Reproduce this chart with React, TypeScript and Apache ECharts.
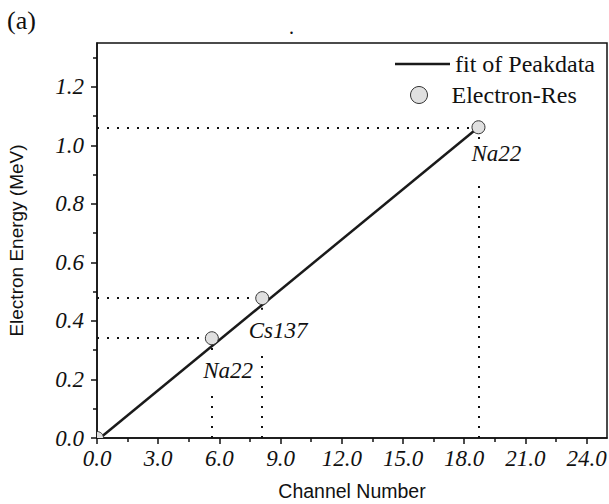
import React, { useEffect, useRef } from "react";
import * as echarts from "echarts";

const xMajor = [0, 3, 6, 9, 12, 15, 18, 21, 24];
const xMinor = [1.5, 4.5, 7.5, 10.5, 13.5, 16.5, 19.5, 22.5];
const yMajor = [0, 0.2, 0.4, 0.6, 0.8, 1.0, 1.2];
const yMinor = [0.1, 0.3, 0.5, 0.7, 0.9, 1.1, 1.3];

const pointX = [0, 5.63, 8.1, 18.7];
const pointY = [0, 0.341, 0.478, 1.062];

const fitX = [0.15, 18.7];
const fitY = [0.0, 1.062];

// dotted reference guides
const refX = [5.63, 8.1, 18.7];
const refY = [0.341, 0.478, 1.062];
const refDropTop = [0.171, 0.3, 0.889];

const annotNames = ["Na22", "Cs137", "Na22"];
const annotX = [6.43, 8.88, 19.58];
const annotY = [0.232, 0.369, 0.974];

const SERIF = "Liberation Serif";
const SANS = "Liberation Sans";

export default function App() {
  const ref = useRef<HTMLDivElement>(null);
  useEffect(() => {
    if (!ref.current) return;
    const chart = echarts.init(ref.current, null, { renderer: "svg" });
    const markLines: any[] = [];
    refX.forEach((x, i) => {
      markLines.push([{ coord: [0, refY[i]] }, { coord: [x, refY[i]] }]);
      markLines.push([{ coord: [x, 0] }, { coord: [x, refDropTop[i]] }]);
      markLines.push([{ coord: [x, refY[i] - 0.04] }, { coord: [x, refY[i]] }]);
    });
    const tickLabel = {
      fontFamily: SERIF,
      fontStyle: "italic",
      fontSize: 23,
      color: "#111",
    };
    chart.setOption({
      animation: false,
      backgroundColor: "#fff",
      grid: {
        left: 97,
        right: 2,
        top: 43,
        bottom: 66,
        show: true,
        borderColor: "#111",
        borderWidth: 1.5,
        containLabel: false,
        outerBoundsMode: "none",
      },
      legend: [
        {
          left: 390,
          top: 47,
          itemWidth: 55,
          itemHeight: 2.5,
          icon: "rect",
          textStyle: { fontFamily: SERIF, fontSize: 24, color: "#111" },
          data: [{ name: "fit of Peakdata", itemStyle: { color: "#1a1a1a" } }],
        },
        {
          left: 405,
          top: 78,
          itemWidth: 55,
          itemHeight: 17,
          textStyle: { fontFamily: SERIF, fontSize: 24, color: "#111" },
          data: [
            {
              name: "Electron-Res",
              icon: "circle",
              itemStyle: { color: "#e0e0e0", borderColor: "#333", borderWidth: 1 },
            },
          ],
        },
      ],
      graphic: [
        {
          type: "text",
          left: 7,
          top: 7,
          style: { text: "(a)", font: `26px ${SERIF}`, fill: "#111" },
        },
        {
          type: "text",
          left: 289,
          top: 17,
          style: { text: ".", font: `20px ${SERIF}`, fill: "#111" },
        },
      ],
      xAxis: [
        {
          type: "value",
          min: 0,
          max: 25,
          name: "Channel Number",
          nameLocation: "middle",
          nameGap: 43,
          nameTextStyle: { fontFamily: SANS, fontSize: 19.5, color: "#111" },
          axisLine: { show: true, lineStyle: { color: "#111", width: 1.5 } },
          axisTick: { show: true, length: 6, customValues: xMajor, lineStyle: { color: "#111", width: 1.5 } },
          axisLabel: {
            ...tickLabel,
            margin: 9,
            customValues: xMajor,
            formatter: (v: number) => v.toFixed(1),
          },
          splitLine: { show: false },
        },
        {
          type: "value",
          min: 0,
          max: 25,
          position: "bottom",
          axisLine: { show: false },
          axisTick: { show: true, length: 4, customValues: xMinor, lineStyle: { color: "#111", width: 1.5 } },
          axisLabel: { show: false },
          splitLine: { show: false },
        },
      ],
      yAxis: [
        {
          type: "value",
          min: 0,
          max: 1.35,
          name: "Electron Energy (MeV)",
          nameLocation: "middle",
          nameGap: 71,
          nameTextStyle: { fontFamily: SANS, fontSize: 19, color: "#111" },
          axisLine: { show: true, lineStyle: { color: "#111", width: 1.5 } },
          axisTick: { show: true, length: 6, customValues: yMajor, lineStyle: { color: "#111", width: 1.5 } },
          axisLabel: {
            ...tickLabel,
            margin: 13,
            customValues: yMajor,
            formatter: (v: number) => v.toFixed(1),
          },
          splitLine: { show: false },
        },
        {
          type: "value",
          min: 0,
          max: 1.35,
          position: "left",
          axisLine: { show: false },
          axisTick: { show: true, length: 4, customValues: yMinor, lineStyle: { color: "#111", width: 1.5 } },
          axisLabel: { show: false },
          splitLine: { show: false },
        },
      ],
      series: [
        {
          name: "fit of Peakdata",
          type: "line",
          xAxisIndex: 0,
          yAxisIndex: 0,
          symbol: "none",
          z: 2,
          data: fitX.map((x, i) => [x, fitY[i]]),
          lineStyle: { color: "#1a1a1a", width: 2.5 },
          itemStyle: { color: "#1a1a1a" },
          markLine: {
            silent: true,
            z: 1,
            symbol: "none",
            label: { show: false },
            lineStyle: { color: "#111", width: 2, type: [2, 8], cap: "butt" },
            data: markLines,
          },
        },
        {
          name: "Electron-Res",
          type: "custom",
          xAxisIndex: 0,
          yAxisIndex: 0,
          z: 3,
          itemStyle: { color: "#e0e0e0", borderColor: "#333", borderWidth: 1 },
          data: pointX.map((x, i) => [x, pointY[i]]),
          renderItem: (params: any, api: any) => {
            const p = api.coord([api.value(0), api.value(1)]);
            const cs = params.coordSys;
            return {
              type: "circle",
              z2: 10,
              shape: { cx: p[0], cy: p[1], r: 6.5 },
              style: { fill: "#e0e0e0", stroke: "#333", lineWidth: 1 },
              clipPath: {
                type: "rect",
                shape: { x: cs.x, y: cs.y, width: cs.width, height: cs.height },
              },
            };
          },
        },
        {
          name: "annotations",
          type: "scatter",
          xAxisIndex: 0,
          yAxisIndex: 0,
          z: 4,
          symbol: "rect",
          symbolSize: 1,
          silent: true,
          itemStyle: { color: "rgba(255,255,255,0)", opacity: 1 },
          data: annotX.map((x, i) => ({ name: annotNames[i], value: [x, annotY[i]] })),
          label: {
            show: true,
            position: "inside",
            formatter: (p: any) => p.name,
            fontFamily: SERIF,
            fontStyle: "italic",
            fontSize: 23,
            color: "#111",
            opacity: 1,
            textBorderWidth: 0,
          },
        },
      ],
    });
    return () => chart.dispose();
  }, []);
  return <div ref={ref} style={{ width: 609, height: 504, position: "absolute", left: 0, top: 0 }} />;
}
